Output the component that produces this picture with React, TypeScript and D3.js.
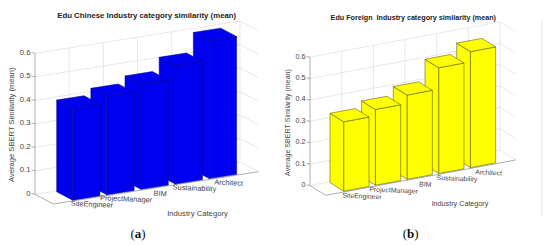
import React from "react";
import * as d3 from "d3";

const categories = ["SiteEngineer", "ProjectManager", "BIM", "Sustainability", "Architect"];
const chineseValues = [0.39, 0.417, 0.447, 0.503, 0.586];
const foreignValues = [0.324, 0.354, 0.394, 0.494, 0.542];
const valueTicks = [0, 0.1, 0.2, 0.3, 0.4, 0.5, 0.6];
const categoryTicks = [1, 2, 3, 4, 5];

type Panel = {
  values: number[]; title: string; tag: string; color: string; edge: string;
  origin: [number, number]; U: [number, number]; D: [number, number]; vPx: number;
  titleX: number; titleY: number; titleSize: number;
  yLabelX: number; yLabelY: number; yLabelSize: number;
  xLabelX: number; xLabelY: number; tagX: number; labelOff: [number, number]; fs: number;
};

const panels: Panel[] = [
  { values: chineseValues, title: "Edu Chinese Industry category similarity (mean)", tag: "(a)", color: "#0000f0", edge: "#00008a",
    origin: [53.3, 204], U: [205, -32.3], D: [-18.3, -9.7], vPx: 235,
    titleX: 146.7, titleY: 18, titleSize: 7.8, yLabelX: 14.5, yLabelY: 124.7, yLabelSize: 7.6,
    xLabelX: 197.5, xLabelY: 216, tagX: 138, labelOff: [4.5, 5.5], fs: 7.4 },
  { values: foreignValues, title: "Edu Foreign  Industry category similarity (mean)", tag: "(b)", color: "#ffff00", edge: "#55550a",
    origin: [325.7, 195.3], U: [190, -35.3], D: [-15.7, -9.8], vPx: 214,
    titleX: 413.3, titleY: 20, titleSize: 7.2, yLabelX: 289.5, yLabelY: 122.5, yLabelSize: 7.1,
    xLabelX: 460, xLabelY: 205.5, tagX: 410.7, labelOff: [4.6, 6.6], fs: 6.9 },
];

const barHalf = 0.4, depthFront = 0.065, depthBack = 0.935;
const poly = d3.line<[number, number]>().x(p => p[0]).y(p => p[1]);

function Chart({ p }: { p: Panel }) {
  const cScale = d3.scaleLinear().domain([0, 6]).range([0, 1]);
  const dScale = d3.scaleLinear().domain([0, 1]).range([0, 1]);
  const vScale = d3.scaleLinear().domain([0, 0.6]).range([0, p.vPx * 0.6]);
  const proj = (c: number, d: number, v: number): [number, number] => [
    p.origin[0] + cScale(c) * p.U[0] + dScale(d) * p.D[0],
    p.origin[1] + cScale(c) * p.U[1] + dScale(d) * p.D[1] - vScale(v),
  ];
  const seg = (a: [number, number], b: [number, number]) => poly([a, b]) as string;
  const closed = (pts: [number, number][]) => (poly(pts) as string) + "Z";
  const grid = "#dedede", axis = "#8a8a8a", text = "#444";
  const fontFamily = "'Liberation Sans', Arial, sans-serif";
  const order = p.values.map((v, i) => ({ v, i })).reverse();
  return (
    <g fontFamily={fontFamily}>
      {valueTicks.slice(1).map(t => (
        <g key={t}>
          <path d={seg(proj(0, 1, t), proj(6, 1, t))} stroke={grid} strokeWidth={0.7} fill="none" />
          <path d={seg(proj(6, 1, t), proj(6, 0, t))} stroke={grid} strokeWidth={0.7} fill="none" />
        </g>
      ))}
      {categoryTicks.map(c => (
        <g key={c}>
          <path d={seg(proj(c, 1, 0), proj(c, 1, 0.6))} stroke={grid} strokeWidth={0.7} fill="none" />
          <path d={seg(proj(c, 0, 0), proj(c, 1, 0))} stroke={grid} strokeWidth={0.7} fill="none" />
        </g>
      ))}
      <path d={seg(proj(6, 1, 0), proj(6, 1, 0.6))} stroke={grid} strokeWidth={0.7} fill="none" />
      <path d={seg(proj(0, 1, 0), proj(6, 1, 0))} stroke={grid} strokeWidth={0.7} fill="none" />
      <path d={seg(proj(6, 0, 0), proj(6, 1, 0))} stroke={grid} strokeWidth={0.7} fill="none" />
      <path d={seg(proj(0, 1, 0), proj(0, 1, 0.6))} stroke={axis} strokeWidth={0.7} fill="none" />
      <path d={seg(proj(0, 1, 0), proj(0, 0, 0))} stroke={axis} strokeWidth={0.7} fill="none" />
      <path d={seg(proj(0, 0, 0), proj(6, 0, 0))} stroke={axis} strokeWidth={0.7} fill="none" />
      {valueTicks.map(t => {
        const [x, y] = proj(0, 1, t);
        return (
          <g key={t}>
            <path d={`M${x},${y}L${x - 3.5},${y - 0.6}`} stroke={axis} strokeWidth={0.7} />
            <text x={x - 4.5} y={y + 1.5} textAnchor="end" fontSize={p.fs + 0.3} fill={text}>{t}</text>
          </g>
        );
      })}
      {order.map(({ v, i }) => {
        const c = i + 1;
        const l = c - barHalf, r = c + barHalf;
        const faces: [number, number][][] = [
          [proj(l, depthFront, 0), proj(r, depthFront, 0), proj(r, depthFront, v), proj(l, depthFront, v)],
          [proj(l, depthFront, 0), proj(l, depthBack, 0), proj(l, depthBack, v), proj(l, depthFront, v)],
          [proj(l, depthFront, v), proj(r, depthFront, v), proj(r, depthBack, v), proj(l, depthBack, v)],
        ];
        return (
          <g key={i}>
            {faces.map((f, k) => (
              <path key={k} d={closed(f)} fill={p.color} stroke={p.edge} strokeWidth={0.55} strokeLinejoin="round" />
            ))}
          </g>
        );
      })}
      {categories.map((name, i) => {
        const [x, y] = proj(i + 1, 0, 0);
        const tx = x + p.labelOff[0], ty = y + p.labelOff[1];
        return (
          <text key={name} x={tx} y={ty} dy="0.35em" textAnchor="middle" fontSize={p.fs} fill={text}
            transform={`rotate(2.5 ${tx} ${ty})`}>{name}</text>
        );
      })}
      <text x={p.titleX} y={p.titleY} textAnchor="middle" fontSize={p.titleSize} fontWeight="bold" fill="#222"
        style={{ whiteSpace: "pre" }}>{p.title}</text>
      <text x={p.yLabelX} y={p.yLabelY} textAnchor="middle" fontSize={p.yLabelSize} fill={text}
        transform={`rotate(-90 ${p.yLabelX} ${p.yLabelY})`}>Average SBERT Similarity (mean)</text>
      <text x={p.xLabelX} y={p.xLabelY} textAnchor="middle" fontSize={p.fs + 0.3} fill={text}>Industry Category</text>
      <text x={p.tagX} y={238} textAnchor="middle" fontSize={13} fontFamily="'Liberation Serif', serif" fill="#111">
        (<tspan fontWeight="bold">{p.tag.slice(1, 2)}</tspan>)
      </text>
    </g>
  );
}

export default function App() {
  return (
    <svg width={550} height={245} viewBox="0 0 550 245"
      style={{ position: "absolute", left: 0, top: 0, background: "#fff" }}>
      {panels.map(p => <Chart key={p.tag} p={p} />)}
      <path d="M542,21V216" stroke="#f1f1f1" strokeWidth={2} fill="none" />
    </svg>
  );
}
